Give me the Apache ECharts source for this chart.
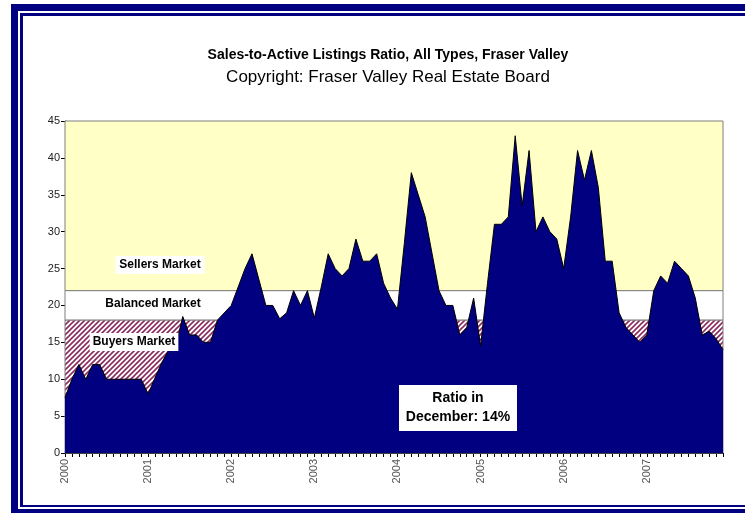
<!DOCTYPE html>
<html>
<head>
<meta charset="utf-8">
<script src="https://cdn.jsdelivr.net/npm/echarts@6/dist/echarts.min.js"></script>
<style>
  html, body { margin: 0; padding: 0; background: #fff; }
  #chart { width: 745px; height: 513px; }
</style>
</head>
<body>
<div id="chart"></div>
<script>
// ---- data (monthly sales-to-active listings ratio, %) ----
const years = ['2000', '2001', '2002', '2003', '2004', '2005', '2006', '2007'];
const monthNames = ['01','02','03','04','05','06','07','08','09','10','11','12'];
const ratio2000 = [7.5, 10, 12, 10, 12, 12, 10, 10, 10, 10, 10, 10];
const ratio2001 = [8, 10.2, 12.3, 14, 14.5, 18.5, 16, 16, 15, 15, 18, 19];
const ratio2002 = [20, 22.5, 25, 27, 23.5, 20, 20, 18.2, 19, 22, 20, 22];
const ratio2003 = [18.3, 22.5, 27, 25, 24, 25, 29, 26, 26, 27, 23, 21];
const ratio2004 = [19.5, 28.5, 38, 35, 32, 27, 22, 20, 20, 16, 17, 21];
const ratio2005 = [14.5, 23, 31, 31, 32, 43, 33.5, 41, 30, 32, 30, 29];
const ratio2006 = [25, 32, 41, 37, 41, 36, 26, 26, 19, 17, 16, 15];
const ratio2007 = [16, 22, 24, 23, 26, 25, 24, 21, 16, 16.5, 15.5, 14];
const yTicks = { min: 0, max: 45, interval: 5 };
const bands = { buyersTop: 18, sellersBottom: 22 };

const ratios = [].concat(ratio2000, ratio2001, ratio2002, ratio2003,
                         ratio2004, ratio2005, ratio2006, ratio2007);
const categories = [];
years.forEach(y => monthNames.forEach(m => categories.push(y + '-' + m)));

// hatch pattern for the buyers market band
function makeHatch() {
  const s = 5;
  const c = document.createElement('canvas');
  c.width = s; c.height = s;
  const ctx = c.getContext('2d');
  ctx.fillStyle = '#ffffff';
  ctx.fillRect(0, 0, s, s);
  ctx.strokeStyle = '#8a2a5e';
  ctx.lineWidth = 1.6;
  ctx.beginPath();
  ctx.moveTo(0, s); ctx.lineTo(s, 0);
  ctx.moveTo(-1, 1); ctx.lineTo(1, -1);
  ctx.moveTo(s - 1, s + 1); ctx.lineTo(s + 1, s - 1);
  ctx.stroke();
  return c;
}

const chart = echarts.init(document.getElementById('chart'), null, { renderer: 'canvas' });
const FONT = 'Liberation Sans, Arial, sans-serif';
const NAVY = '#000080';

chart.setOption({
  animation: false,
  backgroundColor: '#ffffff',
  title: [
    { text: 'Sales-to-Active Listings Ratio, All Types, Fraser Valley',
      left: 383, top: 43, textAlign: 'center',
      textStyle: { fontFamily: FONT, fontSize: 14, fontWeight: 'bold', color: '#000' } },
    { text: 'Copyright: Fraser Valley Real Estate Board',
      left: 383, top: 64, textAlign: 'center',
      textStyle: { fontFamily: FONT, fontSize: 17, fontWeight: 'normal', color: '#000' } }
  ],
  grid: { left: 65, right: 22, top: 121, bottom: 60, containLabel: false },
  xAxis: {
    type: 'category',
    data: categories,
    boundaryGap: false,
    axisLine: { show: true, lineStyle: { color: '#000', width: 1 } },
    axisTick: { show: true, interval: 0, length: 4, lineStyle: { color: '#000' } },
    axisLabel: {
      interval: (i) => i % 12 === 0,
      rotate: 90,
      formatter: (v) => v.slice(0, 4),
      fontFamily: FONT, fontSize: 11, color: '#555', margin: 6
    },
    splitLine: { show: false }
  },
  yAxis: {
    type: 'value',
    min: yTicks.min, max: yTicks.max, interval: yTicks.interval,
    axisLine: { show: true, lineStyle: { color: '#000', width: 1 } },
    axisTick: { show: true, length: 4, lineStyle: { color: '#000' } },
    axisLabel: { fontFamily: FONT, fontSize: 11, color: '#222', margin: 5 },
    splitLine: { show: false }
  },
  series: [{
    type: 'line',
    data: ratios,
    symbol: 'none',
    z: 3,
    lineStyle: { color: '#000', width: 1 },
    itemStyle: { color: NAVY },
    areaStyle: { color: NAVY, opacity: 1 },
    markArea: {
      silent: true,
      z: 1,
      itemStyle: { borderColor: '#7f7f7f', borderWidth: 1 },
      data: [
        [{ yAxis: bands.sellersBottom, itemStyle: { color: '#ffffc6' } }, { yAxis: yTicks.max }],
        [{ yAxis: bands.buyersTop, itemStyle: { color: '#ffffff' } }, { yAxis: bands.sellersBottom }],
        [{ yAxis: yTicks.min, itemStyle: { color: { image: makeHatch(), repeat: 'repeat' } } }, { yAxis: bands.buyersTop }]
      ]
    }
  }],
  graphic: [
    // frame
    { type: 'rect', shape: { x: 11, y: 4, width: 760, height: 7 }, style: { fill: NAVY }, z: 10 },
    { type: 'rect', shape: { x: 11, y: 4, width: 7, height: 520 }, style: { fill: NAVY }, z: 10 },
    { type: 'rect', shape: { x: 11, y: 509, width: 760, height: 10 }, style: { fill: NAVY }, z: 10 },
    { type: 'rect', shape: { x: 20, y: 13, width: 760, height: 3 }, style: { fill: NAVY }, z: 10 },
    { type: 'rect', shape: { x: 20, y: 13, width: 3, height: 494 }, style: { fill: NAVY }, z: 10 },
    { type: 'rect', shape: { x: 20, y: 505, width: 760, height: 2 }, style: { fill: NAVY }, z: 10 },
    // band labels
    { type: 'text', x: 160, y: 265, z: 20,
      style: { text: 'Sellers Market', fontFamily: FONT, fontSize: 12, fontWeight: 'bold', fill: '#000',
               align: 'center', verticalAlign: 'middle', backgroundColor: '#fff', padding: [3, 4] } },
    { type: 'text', x: 153, y: 304, z: 20,
      style: { text: 'Balanced Market', fontFamily: FONT, fontSize: 12, fontWeight: 'bold', fill: '#000',
               align: 'center', verticalAlign: 'middle', backgroundColor: '#fff', padding: [1, 2] } },
    { type: 'text', x: 134, y: 342, z: 20,
      style: { text: 'Buyers Market', fontFamily: FONT, fontSize: 12, fontWeight: 'bold', fill: '#000',
               align: 'center', verticalAlign: 'middle', backgroundColor: '#fff', padding: [3, 3] } },
    { type: 'text', x: 458, y: 408, z: 20,
      style: { text: 'Ratio in\nDecember: 14%', fontFamily: FONT, fontSize: 14, fontWeight: 'bold', fill: '#000',
               align: 'center', verticalAlign: 'middle', lineHeight: 19, width: 112,
               backgroundColor: '#fff', padding: [4, 3] } }
  ]
});
</script>
</body>
</html>
